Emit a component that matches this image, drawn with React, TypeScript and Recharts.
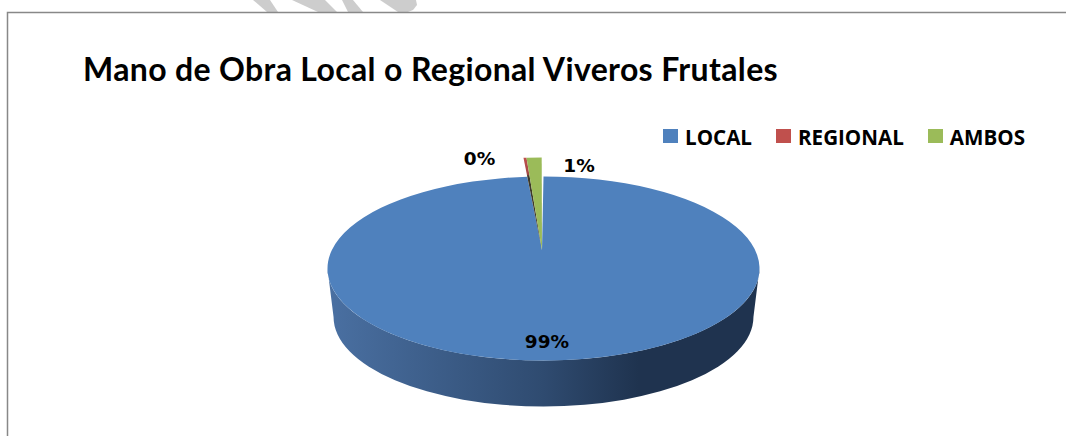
import { PieChart, Pie, Legend } from "recharts"

const categories = ["LOCAL", "REGIONAL", "AMBOS"]
const shares = [98.8, 0.2, 1.0]
const COLORS = ["#4f81bd", "url(#regionalFill)", "#9bbb59"]
const LEGEND_COLORS = ["#4f81bd", "#c0504d", "#9bbb59"]

const data = categories.map((name, i) => ({ name, value: shares[i], fill: COLORS[i] }))

// how the flat pie gets tilted into the ellipse of the 3d look
const TILT = 0.426
const DEPTH = 48.5
const BOTTOM_SCALE = 0.972
const APEX_X = -1.5
const APEX_Y = -18.5
const LIFT_X = -1.8
const LIFT_Y = -19
const LIFT_SPREAD = 1.12

const LABEL_OFFSETS = [
  { x: 3.5, y: 72.5 },
  { x: -64, y: -110.5 },
  { x: 35.5, y: -103.5 },
]

const rad = (a: number) => (a * Math.PI) / 180

function arcPoint(cx: number, cy: number, r: number, angle: number) {
  return [cx + r * Math.cos(rad(angle)), cy - r * TILT * Math.sin(rad(angle))]
}

function TopSlice(props: any) {
  const { cx, cy, outerRadius: r, startAngle, endAngle, fill, name } = props
  const apex = `M${cx + APEX_X},${cy + APEX_Y}`
  if (name !== categories[0]) {
    // the small slices are pulled out of the pie, towards the back
    const [x1, y1] = arcPoint(cx, cy + LIFT_Y, r, startAngle)
    const [x2, y2] = arcPoint(cx, cy + LIFT_Y, r, endAngle)
    const px1 = cx + LIFT_X + (x1 - cx) * LIFT_SPREAD
    const px2 = cx + LIFT_X + (x2 - cx) * LIFT_SPREAD
    return <path d={`${apex}L${px1},${y1}L${px2},${y2}Z`} fill={fill} />
  }
  const [x1, y1] = arcPoint(cx, cy, r, startAngle)
  const [x2, y2] = arcPoint(cx, cy, r, endAngle)
  const large = Math.abs(startAngle - endAngle) > 180 ? 1 : 0
  return <path d={`${apex}L${x1},${y1}A${r},${r * TILT} 0 ${large} 1 ${x2},${y2}Z`} fill={fill} />
}

function SideWall(props: any) {
  const { cx, cy, outerRadius: r, startAngle, endAngle } = props
  const hi = Math.min(startAngle, 0)
  const lo = Math.max(endAngle, -180)
  if (hi <= lo) return null
  const rb = r * BOTTOM_SCALE
  const [x1, y1] = arcPoint(cx, cy, r, hi)
  const [x2, y2] = arcPoint(cx, cy, r, lo)
  const [x3, y3] = arcPoint(cx, cy + DEPTH, rb, lo)
  const [x4, y4] = arcPoint(cx, cy + DEPTH, rb, hi)
  const d = `M${x1},${y1}A${r},${r * TILT} 0 0 1 ${x2},${y2}L${x3},${y3}A${rb},${rb * TILT} 0 0 0 ${x4},${y4}Z`
  return <path d={d} fill="url(#localWall)" />
}

function renderLabel(props: any) {
  const { cx, cy, percent, index } = props
  const off = LABEL_OFFSETS[index]
  return (
    <text
      x={cx + off.x}
      y={cy + off.y}
      textAnchor="middle"
      dominantBaseline="central"
      fontFamily="DejaVu Sans"
      fontWeight="bold"
      fontSize={18.5}
      fill="#000"
    >
      {`${(percent * 100).toFixed(0)}%`}
    </text>
  )
}

function renderLegend() {
  return (
    <div style={{ display: "flex", alignItems: "center", fontFamily: "Open Sans", fontWeight: 700, fontSize: 20.6, color: "#000", lineHeight: "20px" }}>
      {categories.map((name, i) => (
        <div key={name} style={{ display: "flex", alignItems: "center", marginRight: 24 }}>
          <span style={{ width: 15, height: 14, background: LEGEND_COLORS[i], marginRight: 7, marginTop: -2 }} />
          <span>{name}</span>
        </div>
      ))}
    </div>
  )
}

export default function App() {
  return (
    <div style={{ position: "absolute", left: 0, top: 0, width: 1066, height: 436, overflow: "hidden", background: "#fff" }}>
      <svg width={1066} height={436} style={{ position: "absolute", left: 0, top: 0 }}>
        <g fill="#cdcdcd">
          <polygon points="253,0 270,0 278,12 267,12" />
          <polygon points="292,0 325,0 337,12 318,12" />
          <polygon points="342,0 353,0 363,12 348,12" />
          <polygon points="380,0 416,0 417,5 413,10 408,12 398,12" />
        </g>
        <path d="M7.5,436V12.5H1066" fill="none" stroke="#888" strokeWidth={1.5} />
      </svg>
      <div
        style={{
          position: "absolute",
          left: 83,
          top: 48,
          fontFamily: "Lato",
          fontWeight: 700,
          fontSize: 32,
          letterSpacing: 0.35,
          lineHeight: "42px",
          color: "#000",
          whiteSpace: "nowrap",
        }}
      >
        Mano de Obra Local o Regional Viveros Frutales
      </div>
      <PieChart width={1066} height={436} margin={{ top: 0, right: 0, bottom: 0, left: 0 }} style={{ position: "absolute", left: 0, top: 0 }}>
        <defs>
          <linearGradient id="localWall" x1="0" y1="0" x2="1" y2="0">
            <stop offset="0" stopColor="#4a70a2" />
            <stop offset="0.5" stopColor="#2f4b70" />
            <stop offset="0.72" stopColor="#1f334f" />
            <stop offset="1" stopColor="#1f334f" />
          </linearGradient>
          <linearGradient id="regionalFill" x1="0" y1="0" x2="0" y2="1">
            <stop offset="0" stopColor="#c0504d" />
            <stop offset="0.18" stopColor="#a04644" />
            <stop offset="0.2" stopColor="#3e3a2a" />
            <stop offset="1" stopColor="#3e3a2a" />
          </linearGradient>
        </defs>
        <Pie
          data={data}
          dataKey="value"
          nameKey="name"
          cx={543.5}
          cy={268.5}
          outerRadius={216}
          startAngle={90}
          endAngle={-270}
          stroke="none"
          legendType="none"
          shape={SideWall}
          isAnimationActive={false}
        />
        <Pie
          data={data}
          dataKey="value"
          nameKey="name"
          cx={543.5}
          cy={268.5}
          outerRadius={216}
          startAngle={90}
          endAngle={-270}
          stroke="none"
          shape={TopSlice}
          labelLine={false}
          label={renderLabel}
          isAnimationActive={false}
        />
        <Legend
          content={renderLegend}
          layout="horizontal"
          verticalAlign="middle"
          align="center"
          wrapperStyle={{ left: 663, top: 127, width: 403 }}
        />
      </PieChart>
    </div>
  )
}
